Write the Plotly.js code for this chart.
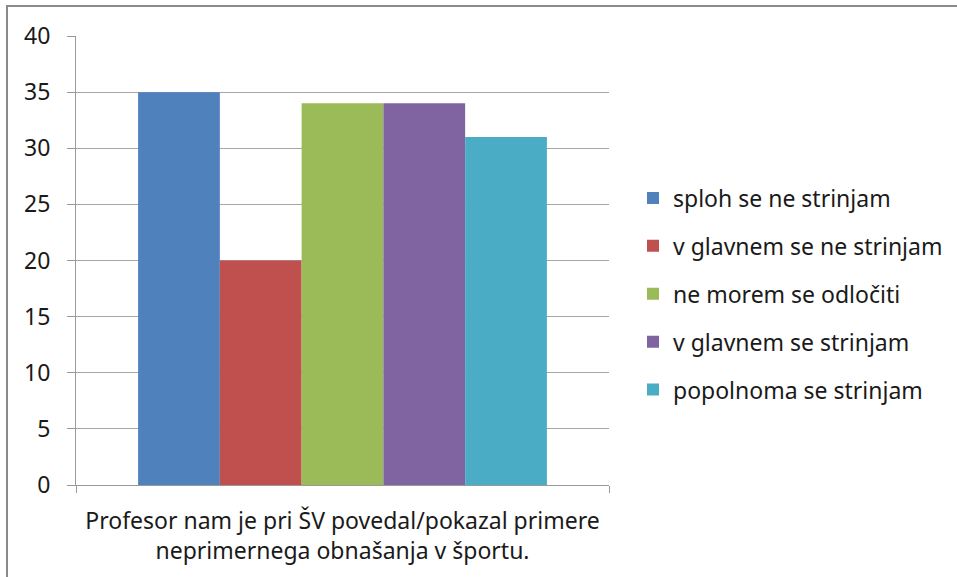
<!DOCTYPE html>
<html>
<head>
<meta charset="utf-8">
<script src="https://cdn.plot.ly/plotly-3.0.1.min.js"></script>
<style>html,body{margin:0;padding:0;background:#fff;}#chart{width:957px;height:577px;}</style>
</head>
<body>
<div id="chart"></div>
<script>
const category = ["Profesor nam je pri ŠV povedal/pokazal primere<br>neprimernega obnašanja v športu."];
const seriesNames = ["sploh se ne strinjam","v glavnem se ne strinjam","ne morem se odločiti","v glavnem se strinjam","popolnoma se strinjam"];
const seriesValues = [35, 20, 34, 34, 31];
const seriesColors = ["#4F81BD","#C0504D","#9BBB59","#8064A2","#4BACC6"];
const yTicks = [0,5,10,15,20,25,30,35,40];

const W = 957, H = 577;
const M = {l: 76, r: 348, t: 36, b: 92, autoexpand: false};
const pw = W - M.l - M.r, ph = H - M.t - M.b;
const px = x => (x - M.l) / pw;
const py = y => (H - M.b - y) / ph;

const FONT = "Noto Sans, Open Sans, sans-serif";

const traces = seriesNames.map((n, i) => ({
  type: "bar",
  name: n,
  x: category,
  y: [seriesValues[i]],
  marker: {color: seriesColors[i], line: {width: 0}},
  legendgroup: "g" + i,
  hoverinfo: "none"
}));

const layout = {
  width: W, height: H,
  margin: M,
  paper_bgcolor: "#fff", plot_bgcolor: "#fff",
  barmode: "group",
  bargap: 0.233,
  bargroupgap: 0,
  font: {family: FONT, color: "#1a1a1a"},
  xaxis: {
    type: "category",
    showgrid: false,
    showline: true, linecolor: "#999", linewidth: 1,
    ticks: "outside", tickson: "boundaries", ticklen: 7, tickcolor: "#999",
    tickfont: {size: 23, family: FONT, color: "#1a1a1a"},
    ticklabelstandoff: 15,
    automargin: false,
    fixedrange: true
  },
  yaxis: {
    range: [0, 40],
    tickvals: yTicks,
    ticktext: yTicks.map(String),
    showgrid: true, gridcolor: "#a6a6a6", gridwidth: 1,
    zeroline: false,
    showline: true, linecolor: "#999", linewidth: 1,
    ticks: "outside", ticklen: 8, tickcolor: "#999",
    tickfont: {size: 23, family: FONT, color: "#1a1a1a"},
    ticklabelstandoff: 12,
    automargin: false,
    fixedrange: true
  },
  showlegend: true,
  legend: {
    x: px(633), xanchor: "left",
    y: py(294), yanchor: "middle",
    traceorder: "grouped",
    tracegroupgap: 15,
    font: {size: 23, family: FONT, color: "#1a1a1a"},
    bgcolor: "rgba(0,0,0,0)"
  },
  shapes: [
    {type: "line", xref: "paper", yref: "paper", x0: px(7), x1: px(7), y0: py(6), y1: py(H + 5), line: {color: "#8a8a8a", width: 2}},
    {type: "line", xref: "paper", yref: "paper", x0: px(6), x1: px(W + 5), y0: py(6), y1: py(6), line: {color: "#8a8a8a", width: 2}}
  ]
};

Plotly.newPlot("chart", traces, layout, {displayModeBar: false, staticPlot: true});
</script>
</body>
</html>
